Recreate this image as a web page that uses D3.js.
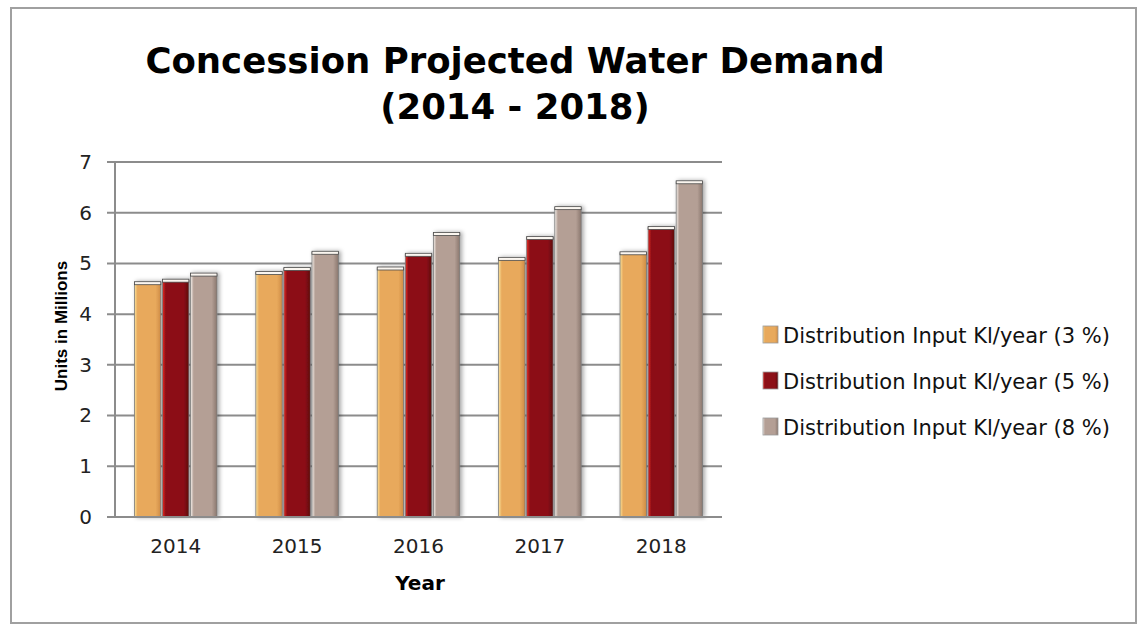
<!DOCTYPE html>
<html lang="en">

<head>
  <meta charset="UTF-8">
  <title>Concession Projected Water Demand</title>
  <style>
    body {
      margin: 0;
      background-color: white;
    }

    svg {
      display: block;
      font-family: "DejaVu Sans", sans-serif;
    }
  </style>
</head>

<body>
  <svg width="1139" height="626"></svg>

  <script src="https://d3js.org/d3.v7.min.js"></script>
  <script>
    const years = ["2014", "2015", "2016", "2017", "2018"];
    const seriesNames = ["Distribution Input Kl/year (3 %)", "Distribution Input Kl/year (5 %)", "Distribution Input Kl/year (8 %)"];
    const input3 = [4.62, 4.82, 4.91, 5.1, 5.21];
    const input5 = [4.67, 4.9, 5.18, 5.51, 5.71];
    const input8 = [4.79, 5.22, 5.59, 6.1, 6.61];
    const yTicks = [0, 1, 2, 3, 4, 5, 6, 7];

    const series = [input3, input5, input8];
    // light edge, body, dark edge for each series
    const barColors = [
      ["#fbe39a", "#e8a95c", "#cf8c46"],
      ["#ec2a22", "#8c1017", "#5e080c"],
      ["#f6f1ec", "#b49f95", "#8a776e"]
    ];

    const svg = d3.select("svg");
    const plotLeft = 115, plotRight = 722, plotTop = 162, plotBottom = 517;

    const x = d3.scaleBand().domain(years).range([plotLeft, plotRight]).paddingInner(0.32).paddingOuter(0.16);
    const x1 = d3.scaleBand().domain(d3.range(series.length)).range([0, x.bandwidth()]).paddingInner(0.06);
    const y = d3.scaleLinear().domain([0, 7]).range([plotBottom, plotTop]);

    // frame
    svg.append("rect")
      .attr("x", 11).attr("y", 8)
      .attr("width", 1125).attr("height", 615)
      .attr("fill", "none")
      .attr("stroke", "#a0a0a0")
      .attr("stroke-width", 2);

    const defs = svg.append("defs");
    barColors.forEach((c, i) => {
      const g = defs.append("linearGradient").attr("id", "grad" + i)
        .attr("x1", "0%").attr("x2", "100%").attr("y1", "0%").attr("y2", "0%");
      g.append("stop").attr("offset", "0%").attr("stop-color", c[0]);
      g.append("stop").attr("offset", "12%").attr("stop-color", c[1]);
      g.append("stop").attr("offset", "80%").attr("stop-color", c[1]);
      g.append("stop").attr("offset", "100%").attr("stop-color", c[2]);
    });
    const shadow = defs.append("filter").attr("id", "shadow")
      .attr("x", "-30%").attr("y", "-10%").attr("width", "170%").attr("height", "130%");
    shadow.append("feDropShadow")
      .attr("dx", 2).attr("dy", 0).attr("stdDeviation", 2)
      .attr("flood-color", "#000").attr("flood-opacity", 0.35);

    // grid lines
    svg.append("g")
      .selectAll("line")
      .data(yTicks)
      .enter()
      .append("line")
      .attr("x1", plotLeft - 8)
      .attr("x2", plotRight)
      .attr("y1", (d) => y(d))
      .attr("y2", (d) => y(d))
      .attr("stroke", "#8c8c8c")
      .attr("stroke-width", 2);

    // y axis line
    svg.append("line")
      .attr("x1", plotLeft).attr("x2", plotLeft)
      .attr("y1", plotTop).attr("y2", plotBottom)
      .attr("stroke", "#8c8c8c")
      .attr("stroke-width", 2);

    const yAxis = svg.append("g")
      .attr("transform", "translate(" + (plotLeft - 8) + ",0)")
      .call(d3.axisLeft(y).tickValues(yTicks).tickFormat(d3.format("d")).tickSize(0).tickPadding(15));
    yAxis.select(".domain").remove();
    yAxis.selectAll("text")
      .style("font-family", "DejaVu Sans, sans-serif")
      .style("font-size", "20px")
      .attr("fill", "#222");

    const xAxis = svg.append("g")
      .attr("transform", "translate(0," + plotBottom + ")")
      .call(d3.axisBottom(x).tickSize(0).tickPadding(22));
    xAxis.select(".domain").remove();
    xAxis.selectAll("text")
      .style("font-family", "DejaVu Sans, sans-serif")
      .style("font-size", "20px")
      .attr("fill", "#222");

    // bars
    const groups = svg.append("g")
      .selectAll("g")
      .data(years)
      .enter()
      .append("g")
      .attr("transform", (d) => "translate(" + x(d) + ",0)");

    series.forEach((vals, s) => {
      const bar = groups.append("g").attr("filter", "url(#shadow)");
      bar.append("rect")
        .attr("x", x1(s))
        .attr("y", (d, i) => y(vals[i]))
        .attr("width", x1.bandwidth())
        .attr("height", (d, i) => y(0) - y(vals[i]))
        .attr("fill", "url(#grad" + s + ")")
        .attr("stroke", "#7a7a7a")
        .attr("stroke-width", 0.8);
      // top cap
      bar.append("rect")
        .attr("x", x1(s))
        .attr("y", (d, i) => y(vals[i]) - 1)
        .attr("width", x1.bandwidth())
        .attr("height", 3)
        .attr("fill", "#fbf6f0")
        .attr("stroke", "#4a4a4a")
        .attr("stroke-width", 0.8);
    });

    // x axis baseline
    svg.append("line")
      .attr("x1", plotLeft - 8).attr("x2", plotRight)
      .attr("y1", plotBottom).attr("y2", plotBottom)
      .attr("stroke", "#8c8c8c")
      .attr("stroke-width", 2);

    // titles
    svg.append("text")
      .attr("x", 515).attr("y", 73)
      .attr("text-anchor", "middle")
      .style("font-size", "35.5px")
      .style("font-weight", "bold")
      .text("Concession Projected Water Demand");
    svg.append("text")
      .attr("x", 515).attr("y", 119)
      .attr("text-anchor", "middle")
      .style("font-size", "35.5px")
      .style("font-weight", "bold")
      .text("(2014 - 2018)");

    svg.append("text")
      .attr("transform", "translate(67,326) rotate(-90)")
      .attr("text-anchor", "middle")
      .style("font-family", "Liberation Sans, sans-serif")
      .style("font-size", "17px")
      .style("font-weight", "bold")
      .text("Units in Millions");

    svg.append("text")
      .attr("x", 420).attr("y", 590)
      .attr("text-anchor", "middle")
      .style("font-size", "20px")
      .style("font-weight", "bold")
      .text("Year");

    // legend
    const legend = svg.append("g")
      .selectAll("g")
      .data(seriesNames)
      .enter()
      .append("g")
      .attr("transform", (d, i) => "translate(763," + (335 + i * 46) + ")");
    legend.append("rect")
      .attr("x", 0).attr("y", -9)
      .attr("width", 15).attr("height", 17)
      .attr("fill", (d, i) => "url(#grad" + i + ")")
      .attr("stroke", "#999")
      .attr("stroke-width", 0.8);
    legend.append("text")
      .attr("x", 20).attr("y", 0)
      .attr("dy", "0.36em")
      .style("font-size", "21px")
      .attr("fill", "#111")
      .text((d) => d);
  </script>
</body>

</html>
